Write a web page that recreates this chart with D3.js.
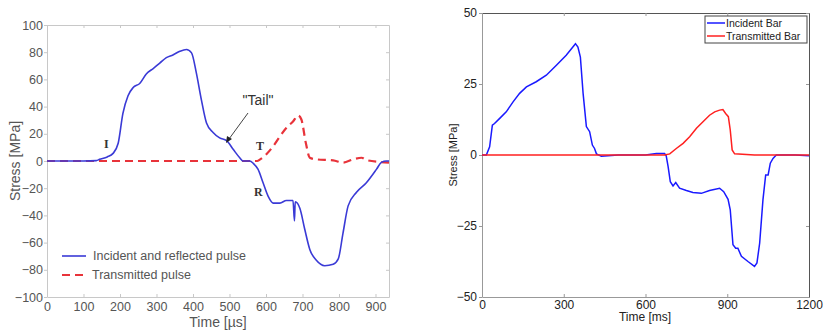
<!DOCTYPE html>
<html>
<head>
<meta charset="utf-8">
<script src="https://cdn.jsdelivr.net/npm/d3@7"></script>
<style>
  body { margin: 0; background: #fff; }
  svg { display: block; font-family: "Liberation Sans", Arial, sans-serif; }
</style>
</head>
<body>
<svg id="chart" width="823" height="330"></svg>
<script>
// left panel: time [µs], stress [MPa]
const leftIncident = [
  [0, 0], [100, 0], [135, 0.3], [144, 1.2], [165, 3], [181, 5.6], [195, 13], [208, 35], [222, 48],
  [236, 54], [254, 57], [272, 64], [291, 68], [309, 72], [327, 76], [345, 78],
  [364, 80.7], [382, 82], [396, 79.5], [409, 65], [423, 45], [437, 28], [455, 21],
  [473, 17], [492, 15], [510, 8.6], [528, 2.4], [537, 0], [556, 0], [565, -1.7],
  [578, -6], [592, -16], [606, -26], [620, -31], [638, -31], [656, -29], [674, -29],
  [678, -44], [680, -30], [693, -35], [706, -50], [720, -65], [738, -73], [761, -77],
  [784, -76], [798, -72], [811, -53], [825, -33], [848, -23], [875, -16], [903, -6],
  [916, -1], [930, 0], [937, 0]
]
const leftTransmitted = [
  [0, 0], [100, 0], [200, 0], [300, 0], [400, 0], [500, 0], [576, 0], [583, 1],
  [601, 5], [620, 11], [638, 18], [656, 24.5], [674, 29], [688, 33.5], [697, 30.5],
  [709, 13.5], [720, 2.4], [738, 1.2], [784, 0.5], [811, -1.2], [839, 1.2],
  [862, 2.4], [875, 0.7], [912, -0.7], [937, -1.2]
]
const leftXTicks = [0, 100, 200, 300, 400, 500, 600, 700, 800, 900]
const leftYTicks = [-100, -80, -60, -40, -20, 0, 20, 40, 60, 80, 100]

// right panel: time [ms], stress [MPa]
const rightIncident = [
  [0, 0], [16, 0], [28, 2.9], [38, 10.5], [46, 11.1], [65, 12.9], [89, 15.2],
  [114, 18.7], [138, 21.7], [163, 24], [199, 25.8], [236, 28.1], [273, 31.6],
  [309, 35.1], [343, 39.2], [352, 38], [361, 34.5], [371, 21.7], [383, 10],
  [395, 8.2], [405, 3.5], [413, 2.3], [420, 0.4], [438, -0.4], [500, 0], [600, 0],
  [640, 0.5], [670, 0.5], [676, -0.3], [683, -4.1], [691, -9.4], [701, -10.9],
  [711, -9.7], [725, -11.7], [750, -12.5], [774, -13.2], [805, -13.5], [835, -12.5],
  [872, -11.7], [887, -12.9], [903, -15.6], [911, -19.3], [921, -31.6], [931, -32.8],
  [939, -32.8], [952, -35.7], [976, -37.5], [1000, -39.2], [1009, -38], [1019, -31],
  [1031, -15.8], [1041, -7], [1050, -7], [1058, -2.9], [1068, -1.2], [1080, 0],
  [1150, 0], [1200, -0.3]
]
const rightTransmitted = [
  [0, 0], [100, 0], [200, 0], [300, 0], [400, 0], [500, 0], [600, 0], [670, 0],
  [689, 0.4], [713, 2.3], [738, 4.1], [762, 6.4], [787, 9.4], [811, 11.7], [835, 14],
  [854, 15.2], [872, 15.8], [884, 16], [894, 14.6], [904, 13.5], [911, 8.8],
  [918, 1.8], [927, 0.4], [1000, 0], [1100, 0], [1200, 0]
]
const rightXTicks = [0, 300, 600, 900, 1200]
const rightYTicks = [-50, -25, 0, 25, 50]

const svg = d3.select('#chart')

//
// left panel
//
const L = { left: 47, right: 389, top: 25, bottom: 297 }
const lx = d3.scaleLinear().domain([0, 937]).range([L.left, L.right])
const ly = d3.scaleLinear().domain([-100, 100]).range([L.bottom, L.top])

const lg = svg.append('g')

lg.append('g')
  .attr('transform', `translate(0,${L.bottom})`)
  .call(d3.axisBottom(lx).tickValues(leftXTicks).tickSizeInner(-3).tickSizeOuter(0).tickPadding(5))
lg.append('g')
  .attr('transform', `translate(0,${L.top})`)
  .call(d3.axisTop(lx).tickValues(leftXTicks).tickSizeInner(-3).tickSizeOuter(0).tickFormat(''))
lg.append('g')
  .attr('transform', `translate(${L.left},0)`)
  .call(d3.axisLeft(ly).tickValues(leftYTicks).tickSizeInner(3).tickSizeOuter(0).tickPadding(1))
lg.append('g')
  .attr('transform', `translate(${L.right},0)`)
  .call(d3.axisRight(ly).tickValues(leftYTicks).tickSizeInner(-3).tickSizeOuter(0).tickFormat(''))

lg.selectAll('.domain').attr('stroke', '#c8c8c8')
lg.selectAll('.tick line').attr('stroke', '#c8c8c8')
lg.selectAll('.tick text').attr('fill', '#555').style('font-size', '12.5px')

const lline = d3.line().x(d => lx(d[0])).y(d => ly(d[1])).curve(d3.curveMonotoneX)

lg.append('path')
  .datum(leftTransmitted)
  .attr('d', lline)
  .attr('fill', 'none')
  .attr('stroke', '#e8333a')
  .attr('stroke-width', 2.2)
  .attr('stroke-dasharray', '8,5')
lg.append('path')
  .datum(leftIncident)
  .attr('d', lline)
  .attr('fill', 'none')
  .attr('stroke', '#3a3ad6')
  .attr('stroke-width', 1.6)

// legend
lg.append('line').attr('x1', 62).attr('x2', 86).attr('y1', 256).attr('y2', 256)
  .attr('stroke', '#3a3ad6').attr('stroke-width', 1.6)
lg.append('line').attr('x1', 62).attr('x2', 86).attr('y1', 275).attr('y2', 275)
  .attr('stroke', '#e8333a').attr('stroke-width', 2.2).attr('stroke-dasharray', '8,5')
lg.append('text').attr('x', 93).attr('y', 260).text('Incident and reflected pulse')
  .attr('fill', '#555').style('font-size', '12.5px')
lg.append('text').attr('x', 92).attr('y', 279).text('Transmitted pulse')
  .attr('fill', '#555').style('font-size', '12.5px')

// annotations
const serif = '"Liberation Serif", "Times New Roman", serif'
;[['I', 104, 148], ['T', 256, 150], ['R', 254, 196]].forEach(([t, x, y]) => {
  lg.append('text').attr('x', x).attr('y', y).text(t)
    .style('font-family', serif).style('font-weight', 'bold').style('font-size', '12px')
    .attr('fill', '#333')
})
lg.append('text').attr('x', 258).attr('y', 105).attr('text-anchor', 'middle')
  .text('"Tail"').style('font-size', '14px').attr('fill', '#333')
lg.append('line').attr('x1', 248).attr('y1', 113).attr('x2', 229).attr('y2', 139)
  .attr('stroke', '#444').attr('stroke-width', 1)
lg.append('path').attr('d', 'M226,143 L227,136 L232,139 Z').attr('fill', '#222')

lg.append('text')
  .attr('transform', `translate(20,${(L.top + L.bottom) / 2}) rotate(-90)`)
  .attr('text-anchor', 'middle')
  .text('Stress [MPa]').attr('fill', '#555').style('font-size', '14px')
lg.append('text').attr('x', 218).attr('y', 327).attr('text-anchor', 'middle')
  .text('Time [µs]').attr('fill', '#555').style('font-size', '14px')

//
// right panel
//
const R = { left: 482, right: 809, top: 13, bottom: 297 }
const rx = d3.scaleLinear().domain([0, 1200]).range([R.left, R.right])
const ry = d3.scaleLinear().domain([-50, 50]).range([R.bottom, R.top])

const rg = svg.append('g')

rg.append('g')
  .attr('class', 'ax-b')
  .attr('transform', `translate(0,${R.bottom})`)
  .call(d3.axisBottom(rx).tickValues(rightXTicks).tickFormat(d3.format('d'))
    .tickSizeInner(-3).tickSizeOuter(0).tickPadding(3))
rg.append('g')
  .attr('transform', `translate(0,${R.top})`)
  .call(d3.axisTop(rx).tickValues(rightXTicks).tickSizeInner(-3).tickSizeOuter(0).tickFormat(''))
rg.append('g')
  .attr('class', 'ax-l')
  .attr('transform', `translate(${R.left},0)`)
  .call(d3.axisLeft(ry).tickValues(rightYTicks).tickSizeInner(3).tickSizeOuter(0).tickPadding(2))
rg.append('g')
  .attr('transform', `translate(${R.right},0)`)
  .call(d3.axisRight(ry).tickValues(rightYTicks).tickSizeInner(-3).tickSizeOuter(0).tickFormat(''))

rg.selectAll('.domain').attr('stroke', '#555')
rg.selectAll('.ax-b .domain, .ax-l .domain').attr('stroke', '#999')
rg.selectAll('.tick line').attr('stroke', '#999')
rg.selectAll('.tick text').attr('fill', '#222').style('font-size', '12px')

const rline = d3.line().x(d => rx(d[0])).y(d => ry(d[1]))

rg.append('path')
  .datum(rightIncident)
  .attr('d', rline)
  .attr('fill', 'none')
  .attr('stroke', '#1a1aff')
  .attr('stroke-width', 1.5)
rg.append('path')
  .datum(rightTransmitted)
  .attr('d', rline)
  .attr('fill', 'none')
  .attr('stroke', '#ff2020')
  .attr('stroke-width', 1.5)

// legend box
rg.append('rect').attr('x', 705).attr('y', 16).attr('width', 102).attr('height', 27)
  .attr('fill', '#fff').attr('stroke', '#444').attr('stroke-width', 1)
rg.append('line').attr('x1', 707).attr('x2', 725).attr('y1', 23).attr('y2', 23)
  .attr('stroke', '#1a1aff').attr('stroke-width', 1.5)
rg.append('line').attr('x1', 707).attr('x2', 725).attr('y1', 36).attr('y2', 36)
  .attr('stroke', '#ff2020').attr('stroke-width', 1.5)
rg.append('text').attr('x', 726).attr('y', 27).text('Incident Bar')
  .attr('fill', '#222').style('font-size', '10.5px')
rg.append('text').attr('x', 726).attr('y', 40).text('Transmitted Bar')
  .attr('fill', '#222').style('font-size', '10.5px')

rg.append('text')
  .attr('transform', `translate(457,${(R.top + R.bottom) / 2}) rotate(-90)`)
  .attr('text-anchor', 'middle')
  .text('Stress [MPa]').attr('fill', '#222').style('font-size', '11px')
rg.append('text').attr('x', 645).attr('y', 321).attr('text-anchor', 'middle')
  .text('Time [ms]').attr('fill', '#222').style('font-size', '12px')
</script>
</body>
</html>
